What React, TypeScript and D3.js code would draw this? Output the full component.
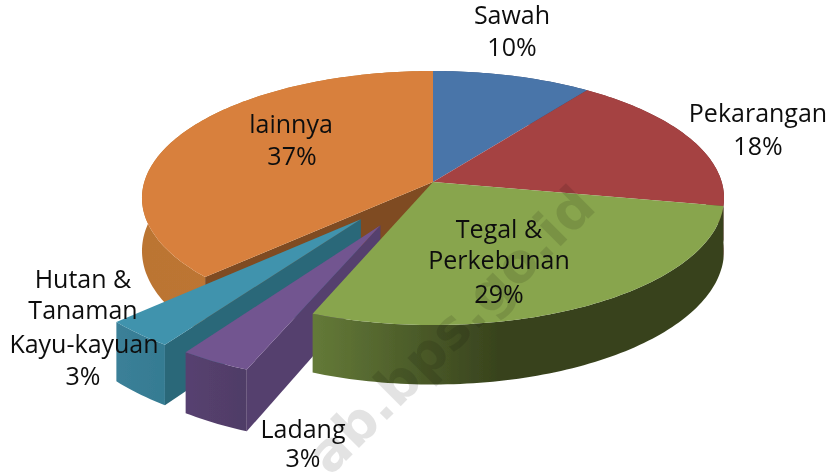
import React from "react";
import * as d3 from "d3";

const categories = ["Sawah", "Pekarangan", "Tegal & Perkebunan", "Ladang", "Hutan & Tanaman Kayu-kayuan", "lainnya"];
const shares = [10, 18, 28, 3.4, 3.4, 37.2];
const explodes = [0, 0, 0, 0.375, 0.375, 0];
const topColors = ["#4a74a9", "#a54343", "#88a54e", "#725490", "#3f93ad", "#d8803c"];
const wallFrom = ["#3a5a84", "#7d3232", "#647a38", "#574070", "#3b8098", "#bb7433"];
const wallTo = ["#2f4a6c", "#6a2a2a", "#38431d", "#4f3d66", "#357b92", "#c07835"];
const sideColors = ["#2f4a6c", "#6a2a2a", "#36411d", "#553f6e", "#2c6779", "#7f4b20"];

const labels = [
  { lines: ["Sawah", "10%"], x: [512, 512], y: [24, 56] },
  { lines: ["Pekarangan", "18%"], x: [758, 758], y: [122, 155] },
  { lines: ["Tegal &", "Perkebunan", "29%"], x: [499, 499, 499], y: [238, 269, 303] },
  { lines: ["Ladang", "3%"], x: [303, 303], y: [438, 467] },
  { lines: ["Hutan &", "Tanaman", "Kayu-kayuan", "3%"], x: [83, 83, 84, 83], y: [288, 319, 353, 385] },
  { lines: ["lainnya", "37%"], x: [291, 292], y: [133, 165] },
];

const cx = 433, cy = 182, R = 288.7, H = 125, K = 0.126, D = 52;
const project = (u: number, v: number, low = false): [number, number] => {
  const w = 1 - K * v;
  return [cx + (R * u) / w, cy + (H * v) / w + (low ? D / w : 0)];
};

const pie = d3.pie<number>().sort(null).value((d) => d).startAngle(0).endAngle(Math.PI * 2);
const arcs = pie(shares);
const line = d3.line();

const pt = (a: number, i: number, r: number, low = false) => {
  const e = explodes[i];
  const mid = (arcs[i].startAngle + arcs[i].endAngle) / 2;
  return project(r * Math.sin(a) + e * Math.sin(mid), -r * Math.cos(a) - e * Math.cos(mid), low);
};
const sweep = (a0: number, a1: number) => {
  const n = Math.max(2, Math.ceil(Math.abs(a1 - a0) / 0.02));
  return d3.range(n + 1).map((k) => a0 + ((a1 - a0) * k) / n);
};
const topPath = (i: number) => {
  const { startAngle: s, endAngle: e } = arcs[i];
  return line([pt(s, i, 0), ...sweep(s, e).map((a) => pt(a, i, 1))])! + "Z";
};
const wallPath = (i: number) => {
  const { startAngle: s, endAngle: e } = arcs[i];
  return line([...sweep(s, e).map((a) => pt(a, i, 1)), ...sweep(e, s).map((a) => pt(a, i, 1, true))])! + "Z";
};
const sidePath = (i: number, a: number) =>
  line([pt(a, i, 0), pt(a, i, 1), pt(a, i, 1, true), pt(a, i, 0, true)])! + "Z";

// painter's order: back slice, exploded wedges, then the front of the pie
const order = [5, 4, 3, 0, 1, 2];

export default function App() {
  return (
    <svg width={831} height={473} style={{ position: "absolute", left: 0, top: 0, background: "#fff" }}>
      <defs>
        {categories.map((_, i) => (
          <linearGradient key={i} id={`wall${i}`} x1="0" x2="1" y1="0" y2="0">
            <stop offset="0" stopColor={wallFrom[i]} />
            <stop offset={i === 2 ? "0.45" : "1"} stopColor={wallTo[i]} />
          </linearGradient>
        ))}
        <filter id="soft" x="-5%" y="-5%" width="110%" height="110%">
          <feGaussianBlur stdDeviation="0.45" />
        </filter>
      </defs>
      <g filter="url(#soft)">
        {order.map((i) => (
          <g key={categories[i]}>
            <path d={wallPath(i)} fill={`url(#wall${i})`} />
            {(i === 3 || i === 4 || i === 5) && <path d={sidePath(i, arcs[i].startAngle)} fill={sideColors[i]} />}
            <path d={topPath(i)} fill={topColors[i]} />
          </g>
        ))}
      </g>
      <text
        transform="translate(598,209) rotate(-45)"
        textAnchor="end"
        fontFamily="DejaVu Sans"
        fontWeight="bold"
        fontSize={54}
        fill="#000"
        fillOpacity={0.11}
      >
        ab.bps.go.id
      </text>
      <g filter="url(#soft)" fontFamily="Open Sans" fontSize={25} fill="#111" textAnchor="middle">
        {labels.map((l, i) =>
          l.lines.map((t, j) => (
            <text key={`${i}-${j}`} x={l.x[j]} y={l.y[j]}>
              {t}
            </text>
          ))
        )}
      </g>
    </svg>
  );
}
